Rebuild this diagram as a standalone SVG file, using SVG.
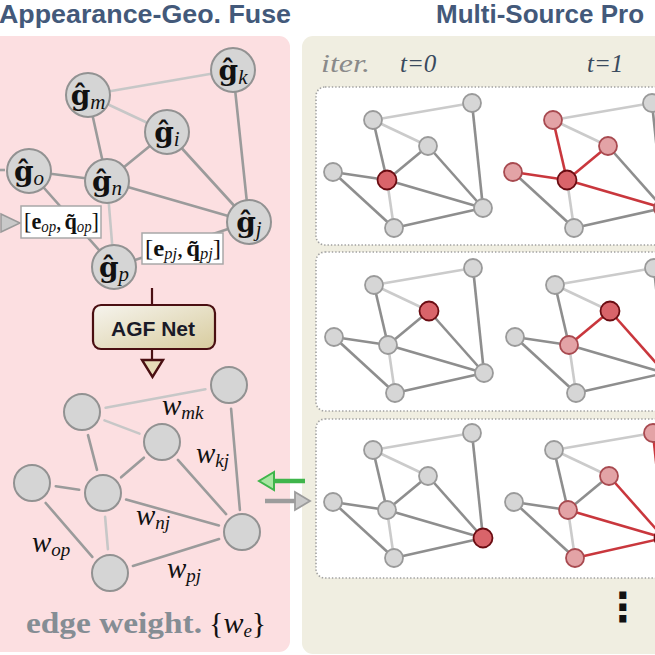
<svg xmlns="http://www.w3.org/2000/svg" width="655" height="655" viewBox="0 0 655 655">
<defs>
<linearGradient id="agfGrad" x1="0" y1="0" x2="1" y2="1">
<stop offset="0" stop-color="#f6f4ee"/>
<stop offset="1" stop-color="#d8cc9e"/>
</linearGradient>
<style>
.title{font-family:"Liberation Sans",Arial,sans-serif;font-weight:bold;font-size:26px;fill:#43597a}
.bd{stroke:#9b9b9b;stroke-width:2.6;fill:none;stroke-linecap:round}
.bl{stroke:#c7c7c7;stroke-width:2.6;fill:none;stroke-linecap:round}
.bn{fill:#d5d5d5;stroke:#929292;stroke-width:2}
.gl{font-family:"DejaVu Serif",serif;font-weight:bold;font-size:28px;fill:#111}
.gs{font-family:"Liberation Serif",serif;font-style:italic;font-weight:normal;font-size:21px}
.lbox{fill:#ffffff;stroke:#a8a8a8;stroke-width:1.5}
.lt{font-family:"Liberation Serif",serif;font-size:24px;fill:#111}
.ls{font-style:italic;font-size:16px}
.wl{font-family:"Liberation Serif",serif;font-style:italic;font-size:29px;fill:#111}
.ws{font-size:19px}
.sd{stroke:#8e8e8e;stroke-width:2.6;fill:none}
.sl{stroke:#cbcbcb;stroke-width:2.6;fill:none}
.sr{stroke:#c9373d;stroke-width:2.6;fill:none}
.sn{fill:#d6d6d6;stroke:#9a9a9a;stroke-width:1.8}
.snr{fill:#d9646a;stroke:#6a0c12;stroke-width:1.8}
.snl{fill:#e3a3a6;stroke:#a84a50;stroke-width:1.8}
.box{fill:#ffffff;stroke:#a0a0a0;stroke-width:1.6;stroke-dasharray:1.4 2}
.it{font-family:"Liberation Serif",serif;font-style:italic;font-size:25px}
</style>
</defs>

<!-- panels -->
<rect x="-12" y="36" width="302" height="616" rx="11" fill="#fcdfe1"/>
<rect x="302" y="36" width="400" height="618" rx="11" fill="#f0eee1"/>

<text class="title" x="-1" y="23" textLength="292" lengthAdjust="spacingAndGlyphs">Appearance-Geo. Fuse</text>
<text class="title" x="436" y="23">Multi-Source Pro</text>

<text class="it" x="321" y="72" fill="#8a8a8a" textLength="49" lengthAdjust="spacingAndGlyphs">iter.</text>
<text class="it" x="400" y="72" fill="#3a4a5e">t=0</text>
<text class="it" x="587" y="72" fill="#3a4a5e">t=1</text>

<!-- dotted iteration boxes -->
<rect class="box" x="316" y="87" width="400" height="158" rx="9"/>
<rect class="box" x="316" y="252" width="400" height="159" rx="9"/>
<rect class="box" x="316" y="419" width="400" height="159" rx="9"/>

<text x="623" y="621" text-anchor="middle" font-family="DejaVu Sans,sans-serif" font-weight="bold" font-size="40" fill="#111">⋮</text>

<!-- ===================== connectors ===================== -->
<g id="connectors">
  <!-- upper big graph -->
  <g id="edges-top">
    <line class="bl" x1="88" y1="95" x2="233" y2="70"/>
    <line class="bl" x1="88" y1="95" x2="167" y2="132"/>
    <line class="bd" x1="88" y1="95" x2="107" y2="181"/>
    <line class="bd" x1="167" y1="132" x2="107" y2="181"/>
    <line class="bd" x1="167" y1="132" x2="249" y2="222"/>
    <line class="bd" x1="233" y1="70" x2="249" y2="222"/>
    <line class="bd" x1="29" y1="171" x2="107" y2="181"/>
    <line class="bd" x1="29" y1="171" x2="114" y2="267"/>
    <line class="bd" x1="107" y1="181" x2="249" y2="222"/>
    <line class="bl" x1="107" y1="181" x2="114" y2="267"/>
    <line class="bd" x1="114" y1="267" x2="249" y2="222"/>
    <line x1="-2" y1="170" x2="5" y2="170" stroke="#a0a0a0" stroke-width="2.6"/>
    <polygon points="1,214 20,223 1,232" fill="#c9c9c9" stroke="#9a9a9a" stroke-width="1.5"/>
  </g>
  <!-- AGF flow -->
  <g id="agf-flow">
    <line x1="152" y1="288" x2="152" y2="305" stroke="#4a0f12" stroke-width="2.2"/>
    <line x1="152" y1="349" x2="152" y2="360" stroke="#4a0f12" stroke-width="2.2"/>
    <polygon points="142,360 163,360 152.5,377" fill="#e6dcb8" stroke="#4a0f12" stroke-width="2.4"/>
  </g>
  <!-- lower big graph (edge weights) -->
  <g id="edges-weight">
    <line class="bl" x1="105.6" y1="407.7" x2="205.4" y2="389.3"/>
    <line class="bl" x1="104.5" y1="420.4" x2="139.5" y2="433.6"/>
    <line class="bd" x1="88" y1="435.2" x2="97" y2="469.8"/>
    <line class="bd" x1="143.9" y1="457.7" x2="121.1" y2="477.3"/>
    <line class="bd" x1="177.9" y1="459.9" x2="226.1" y2="514.1"/>
    <line class="bd" x1="231.1" y1="408.9" x2="239.9" y2="510"/>
    <line class="bd" x1="55.8" y1="486.3" x2="79.2" y2="489.7"/>
    <line class="bd" x1="45.7" y1="503" x2="92.3" y2="556.9"/>
    <line class="bd" x1="126.1" y1="499.5" x2="218.9" y2="525.5"/>
    <line class="bl" x1="105.1" y1="516.9" x2="107.9" y2="549.1"/>
    <line class="bd" x1="132.9" y1="565.9" x2="219.1" y2="539.1"/>
  </g>
  <!-- panel arrows -->
  <g id="panel-arrows">
    <line x1="305" y1="481" x2="273" y2="481" stroke="#3fb54b" stroke-width="4.5"/>
    <polygon points="274,472 259,481 274,490" fill="#a9e6a2" stroke="#3fb54b" stroke-width="2"/>
    <line x1="265" y1="501" x2="296" y2="501" stroke="#9c9c9c" stroke-width="4.5"/>
    <polygon points="295,492 310,501 295,510" fill="#c9c9c9" stroke="#9c9c9c" stroke-width="1.8"/>
  </g>
  <!-- small graphs -->
  <g id="edges-A" transform="translate(387,180)">
    <line class="sl" x1="-14" y1="-60" x2="85" y2="-77"/><line class="sl" x1="-14" y1="-60" x2="41" y2="-34"/>
    <line class="sd" x1="-14" y1="-60" x2="0" y2="0"/><line class="sd" x1="41" y1="-34" x2="0" y2="0"/>
    <line class="sd" x1="41" y1="-34" x2="96" y2="28"/><line class="sd" x1="85" y1="-77" x2="96" y2="28"/>
    <line class="sd" x1="-54" y1="-8" x2="0" y2="0"/><line class="sd" x1="-54" y1="-8" x2="7" y2="48"/>
    <line class="sd" x1="0" y1="0" x2="96" y2="28"/><line class="sl" x1="0" y1="0" x2="7" y2="48"/>
    <line class="sd" x1="7" y1="48" x2="96" y2="28"/>
  </g>
  <g id="edges-B" transform="translate(567,180)">
    <line class="sl" x1="-14" y1="-60" x2="85" y2="-77"/><line class="sl" x1="-14" y1="-60" x2="41" y2="-34"/>
    <line class="sr" x1="-14" y1="-60" x2="0" y2="0"/><line class="sr" x1="41" y1="-34" x2="0" y2="0"/>
    <line class="sd" x1="41" y1="-34" x2="96" y2="28"/><line class="sd" x1="85" y1="-77" x2="96" y2="28"/>
    <line class="sr" x1="-54" y1="-8" x2="0" y2="0"/><line class="sd" x1="-54" y1="-8" x2="7" y2="48"/>
    <line class="sr" x1="0" y1="0" x2="96" y2="28"/><line class="sl" x1="0" y1="0" x2="7" y2="48"/>
    <line class="sd" x1="7" y1="48" x2="96" y2="28"/>
  </g>
  <g id="edges-C" transform="translate(388,345)">
    <line class="sl" x1="-14" y1="-60" x2="85" y2="-77"/><line class="sl" x1="-14" y1="-60" x2="41" y2="-34"/>
    <line class="sd" x1="-14" y1="-60" x2="0" y2="0"/><line class="sd" x1="41" y1="-34" x2="0" y2="0"/>
    <line class="sd" x1="41" y1="-34" x2="96" y2="28"/><line class="sd" x1="85" y1="-77" x2="96" y2="28"/>
    <line class="sd" x1="-54" y1="-8" x2="0" y2="0"/><line class="sd" x1="-54" y1="-8" x2="7" y2="48"/>
    <line class="sd" x1="0" y1="0" x2="96" y2="28"/><line class="sl" x1="0" y1="0" x2="7" y2="48"/>
    <line class="sd" x1="7" y1="48" x2="96" y2="28"/>
  </g>
  <g id="edges-D" transform="translate(569,345)">
    <line class="sl" x1="-14" y1="-60" x2="85" y2="-77"/><line class="sl" x1="-14" y1="-60" x2="41" y2="-34"/>
    <line class="sd" x1="-14" y1="-60" x2="0" y2="0"/><line class="sr" x1="41" y1="-34" x2="0" y2="0"/>
    <line class="sr" x1="41" y1="-34" x2="96" y2="28"/><line class="sd" x1="85" y1="-77" x2="96" y2="28"/>
    <line class="sd" x1="-54" y1="-8" x2="0" y2="0"/><line class="sd" x1="-54" y1="-8" x2="7" y2="48"/>
    <line class="sd" x1="0" y1="0" x2="96" y2="28"/><line class="sl" x1="0" y1="0" x2="7" y2="48"/>
    <line class="sd" x1="7" y1="48" x2="96" y2="28"/>
  </g>
  <g id="edges-E" transform="translate(387,510)">
    <line class="sl" x1="-14" y1="-60" x2="85" y2="-77"/><line class="sl" x1="-14" y1="-60" x2="41" y2="-34"/>
    <line class="sd" x1="-14" y1="-60" x2="0" y2="0"/><line class="sd" x1="41" y1="-34" x2="0" y2="0"/>
    <line class="sd" x1="41" y1="-34" x2="96" y2="28"/><line class="sd" x1="85" y1="-77" x2="96" y2="28"/>
    <line class="sd" x1="-54" y1="-8" x2="0" y2="0"/><line class="sd" x1="-54" y1="-8" x2="7" y2="48"/>
    <line class="sd" x1="0" y1="0" x2="96" y2="28"/><line class="sl" x1="0" y1="0" x2="7" y2="48"/>
    <line class="sd" x1="7" y1="48" x2="96" y2="28"/>
  </g>
  <g id="edges-F" transform="translate(568,510)">
    <line class="sl" x1="-14" y1="-60" x2="85" y2="-77"/><line class="sl" x1="-14" y1="-60" x2="41" y2="-34"/>
    <line class="sd" x1="-14" y1="-60" x2="0" y2="0"/><line class="sd" x1="41" y1="-34" x2="0" y2="0"/>
    <line class="sr" x1="41" y1="-34" x2="96" y2="28"/><line class="sr" x1="85" y1="-77" x2="96" y2="28"/>
    <line class="sd" x1="-54" y1="-8" x2="0" y2="0"/><line class="sd" x1="-54" y1="-8" x2="7" y2="48"/>
    <line class="sr" x1="0" y1="0" x2="96" y2="28"/><line class="sl" x1="0" y1="0" x2="7" y2="48"/>
    <line class="sr" x1="7" y1="48" x2="96" y2="28"/>
  </g>
</g>

<!-- ===================== upper big graph nodes ===================== -->
<g id="node-gk"><circle class="bn" cx="233" cy="70" r="22"/><text class="gl" x="233" y="80" text-anchor="middle">ĝ<tspan class="gs" dy="4">k</tspan></text></g>
<g id="node-gm"><circle class="bn" cx="88" cy="95" r="22"/><text class="gl" x="88" y="105" text-anchor="middle">ĝ<tspan class="gs" dy="4">m</tspan></text></g>
<g id="node-gi"><circle class="bn" cx="167" cy="132" r="22"/><text class="gl" x="167" y="142" text-anchor="middle">ĝ<tspan class="gs" dy="4">i</tspan></text></g>
<g id="node-go"><circle class="bn" cx="29" cy="171" r="22"/><text class="gl" x="29" y="181" text-anchor="middle">ĝ<tspan class="gs" dy="4">o</tspan></text></g>
<g id="node-gn"><circle class="bn" cx="107" cy="181" r="22"/><text class="gl" x="107" y="191" text-anchor="middle">ĝ<tspan class="gs" dy="4">n</tspan></text></g>
<g id="node-gj"><circle class="bn" cx="249" cy="222" r="22"/><text class="gl" x="249" y="232" text-anchor="middle">ĝ<tspan class="gs" dy="4">j</tspan></text></g>
<g id="node-gp"><circle class="bn" cx="114" cy="267" r="22"/><text class="gl" x="114" y="277" text-anchor="middle">ĝ<tspan class="gs" dy="4">p</tspan></text></g>

<g id="label-op"><rect class="lbox" x="21" y="206" width="80" height="32"/>
<text class="lt" x="24" y="229" textLength="75" lengthAdjust="spacingAndGlyphs">[<tspan font-weight="bold">e</tspan><tspan class="ls" dy="3">op</tspan><tspan dy="-3">,</tspan><tspan font-weight="bold" dx="3">q̃</tspan><tspan class="ls" dy="3">op</tspan><tspan dy="-3">]</tspan></text></g>
<g id="label-pj"><rect class="lbox" x="142" y="233" width="81" height="31"/>
<text class="lt" x="145" y="256" textLength="76" lengthAdjust="spacingAndGlyphs">[<tspan font-weight="bold">e</tspan><tspan class="ls" dy="3">pj</tspan><tspan dy="-3">,</tspan><tspan font-weight="bold" dx="3">q̃</tspan><tspan class="ls" dy="3">pj</tspan><tspan dy="-3">]</tspan></text></g>

<g id="node-agf"><rect x="93" y="305" width="122" height="44" rx="8" fill="url(#agfGrad)" stroke="#4a0f12" stroke-width="2.2"/>
<text x="153" y="336" text-anchor="middle" font-family="Liberation Sans,Arial,sans-serif" font-weight="bold" font-size="21" fill="#1a1a28">AGF Net</text></g>

<!-- ===================== lower big graph nodes ===================== -->
<g id="node-wk"><circle class="bn" cx="229" cy="385" r="18"/></g>
<g id="node-wm"><circle class="bn" cx="82" cy="412" r="18"/></g>
<g id="node-wi"><circle class="bn" cx="162" cy="442" r="18"/></g>
<g id="node-wo"><circle class="bn" cx="32" cy="483" r="18"/></g>
<g id="node-wn"><circle class="bn" cx="103" cy="493" r="18"/></g>
<g id="node-wj"><circle class="bn" cx="242" cy="532" r="18"/></g>
<g id="node-wp"><circle class="bn" cx="110" cy="573" r="18"/></g>

<g id="weight-labels">
<text class="wl" x="162" y="415">w<tspan class="ws" dy="4">mk</tspan></text>
<text class="wl" x="196" y="463">w<tspan class="ws" dy="4">kj</tspan></text>
<text class="wl" x="136" y="525">w<tspan class="ws" dy="4">nj</tspan></text>
<text class="wl" x="32" y="552">w<tspan class="ws" dy="4">op</tspan></text>
<text class="wl" x="167" y="578">w<tspan class="ws" dy="4">pj</tspan></text>
</g>

<text x="26" y="633" font-family="Liberation Serif,serif" font-weight="bold" font-size="30" fill="#858d94" textLength="176" lengthAdjust="spacingAndGlyphs">edge weight.</text>
<text x="209" y="633" font-family="Liberation Serif,serif" font-size="30" fill="#111">{<tspan font-style="italic">w</tspan><tspan font-style="italic" font-size="19" dy="4">e</tspan><tspan dy="-4">}</tspan></text>

<!-- ===================== small graph nodes ===================== -->
<g id="graph-A" transform="translate(387,180)">
<g id="A-k"><circle class="sn" cx="85" cy="-77" r="9"/></g><g id="A-m"><circle class="sn" cx="-14" cy="-60" r="9"/></g>
<g id="A-i"><circle class="sn" cx="41" cy="-34" r="9"/></g><g id="A-o"><circle class="sn" cx="-54" cy="-8" r="9"/></g>
<g id="A-n"><circle class="snr" cx="0" cy="0" r="9.5"/></g><g id="A-j"><circle class="sn" cx="96" cy="28" r="9"/></g>
<g id="A-p"><circle class="sn" cx="7" cy="48" r="9"/></g>
</g>
<g id="graph-B" transform="translate(567,180)">
<g id="B-k"><circle class="sn" cx="85" cy="-77" r="9"/></g><g id="B-m"><circle class="snl" cx="-14" cy="-60" r="9"/></g>
<g id="B-i"><circle class="snl" cx="41" cy="-34" r="9"/></g><g id="B-o"><circle class="snl" cx="-54" cy="-8" r="9"/></g>
<g id="B-n"><circle class="snr" cx="0" cy="0" r="9.5"/></g><g id="B-j"><circle class="snl" cx="96" cy="28" r="9"/></g>
<g id="B-p"><circle class="sn" cx="7" cy="48" r="9"/></g>
</g>
<g id="graph-C" transform="translate(388,345)">
<g id="C-k"><circle class="sn" cx="85" cy="-77" r="9"/></g><g id="C-m"><circle class="sn" cx="-14" cy="-60" r="9"/></g>
<g id="C-i"><circle class="snr" cx="41" cy="-34" r="9.5"/></g><g id="C-o"><circle class="sn" cx="-54" cy="-8" r="9"/></g>
<g id="C-n"><circle class="sn" cx="0" cy="0" r="9"/></g><g id="C-j"><circle class="sn" cx="96" cy="28" r="9"/></g>
<g id="C-p"><circle class="sn" cx="7" cy="48" r="9"/></g>
</g>
<g id="graph-D" transform="translate(569,345)">
<g id="D-k"><circle class="sn" cx="85" cy="-77" r="9"/></g><g id="D-m"><circle class="sn" cx="-14" cy="-60" r="9"/></g>
<g id="D-i"><circle class="snr" cx="41" cy="-34" r="9.5"/></g><g id="D-o"><circle class="sn" cx="-54" cy="-8" r="9"/></g>
<g id="D-n"><circle class="snl" cx="0" cy="0" r="9"/></g><g id="D-j"><circle class="snl" cx="96" cy="28" r="9"/></g>
<g id="D-p"><circle class="sn" cx="7" cy="48" r="9"/></g>
</g>
<g id="graph-E" transform="translate(387,510)">
<g id="E-k"><circle class="sn" cx="85" cy="-77" r="9"/></g><g id="E-m"><circle class="sn" cx="-14" cy="-60" r="9"/></g>
<g id="E-i"><circle class="sn" cx="41" cy="-34" r="9"/></g><g id="E-o"><circle class="sn" cx="-54" cy="-8" r="9"/></g>
<g id="E-n"><circle class="sn" cx="0" cy="0" r="9"/></g><g id="E-j"><circle class="snr" cx="96" cy="28" r="9.5"/></g>
<g id="E-p"><circle class="sn" cx="7" cy="48" r="9"/></g>
</g>
<g id="graph-F" transform="translate(568,510)">
<g id="F-k"><circle class="snl" cx="85" cy="-77" r="9"/></g><g id="F-m"><circle class="sn" cx="-14" cy="-60" r="9"/></g>
<g id="F-i"><circle class="snl" cx="41" cy="-34" r="9"/></g><g id="F-o"><circle class="sn" cx="-54" cy="-8" r="9"/></g>
<g id="F-n"><circle class="snl" cx="0" cy="0" r="9"/></g><g id="F-j"><circle class="snr" cx="96" cy="28" r="9.5"/></g>
<g id="F-p"><circle class="snl" cx="7" cy="48" r="9"/></g>
</g>
</svg>
